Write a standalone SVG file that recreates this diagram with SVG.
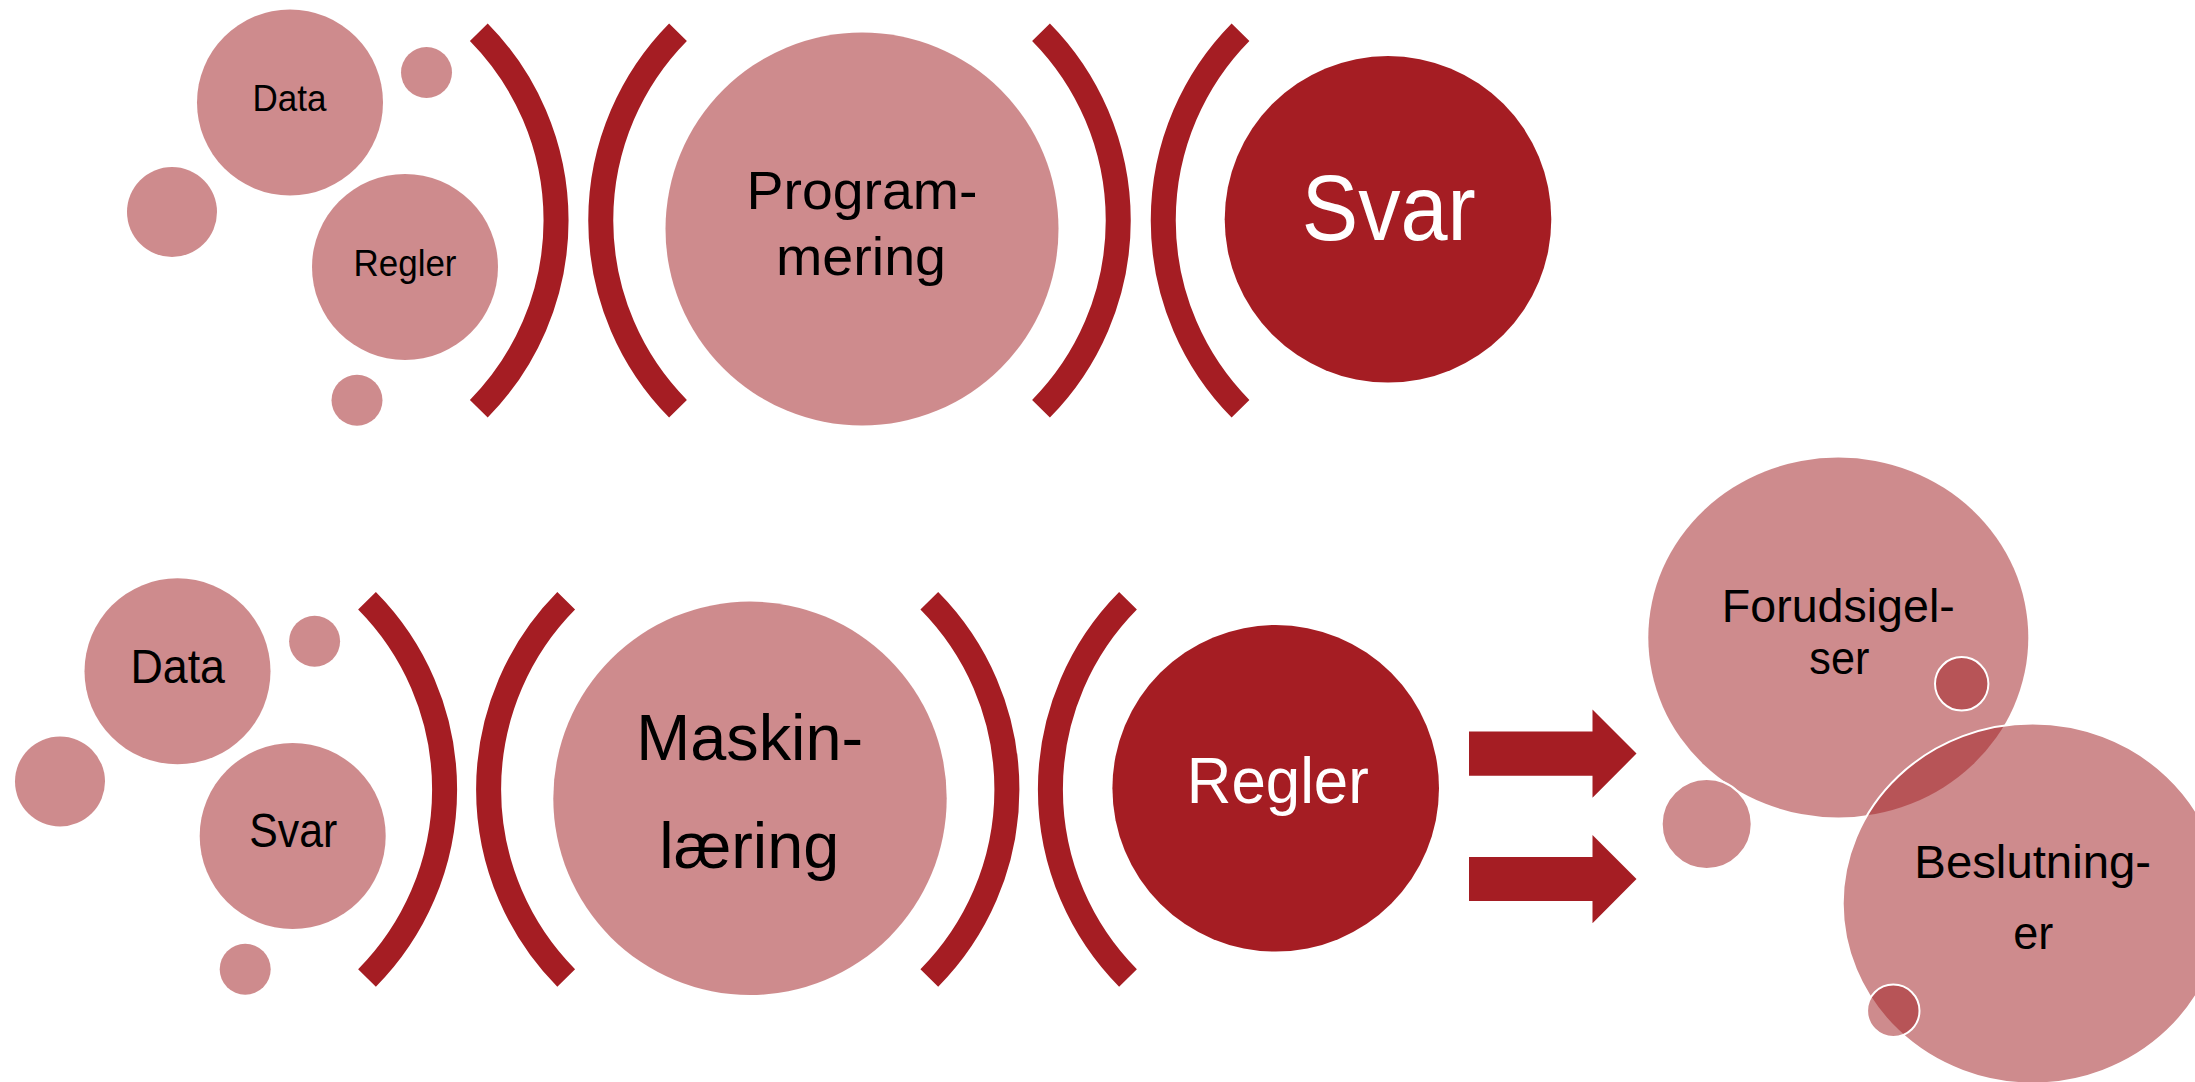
<svg xmlns="http://www.w3.org/2000/svg" width="2195" height="1082" viewBox="0 0 2195 1082">
<style>
.pk{fill:rgb(163,36,40);fill-opacity:0.53}
.pkw{fill:rgb(163,36,40);fill-opacity:0.53;stroke:#ffffff;stroke-width:2}
.dk{fill:#a51d23}
.br{fill:none;stroke:#a51d23;stroke-width:25;stroke-linecap:butt}
.t{font-family:"Liberation Sans",Arial,sans-serif;text-anchor:middle;fill:#000000}
.tw{font-family:"Liberation Sans",Arial,sans-serif;text-anchor:middle;fill:#ffffff}
</style>
<rect x="0" y="0" width="2195" height="1082" fill="#ffffff"/>

<g id="brackets">
<path class="br" d="M478.8 32.2 A268 268 0 0 1 478.8 408.7"/>
<path class="br" d="M678 32.2 A268 268 0 0 0 678 408.7"/>
<path class="br" d="M1041 32.2 A268 268 0 0 1 1041 408.7"/>
<path class="br" d="M1240.5 32.2 A268 268 0 0 0 1240.5 408.7"/>
<path class="br" d="M367 600.8 A268 268 0 0 1 367 978"/>
<path class="br" d="M566.2 600.8 A268 268 0 0 0 566.2 978"/>
<path class="br" d="M929.3 600.8 A268 268 0 0 1 929.3 978"/>
<path class="br" d="M1128 600.8 A268 268 0 0 0 1128 978"/>
</g>

<g id="top-inputs">
<g id="data-top"><circle class="pk" cx="290" cy="102.5" r="93"/><text class="t" x="289.5" y="111" font-size="36.3" textLength="74" lengthAdjust="spacingAndGlyphs">Data</text></g>
<circle id="dot-top-1" class="pk" cx="426.5" cy="72.5" r="25.5"/>
<circle id="dot-top-2" class="pk" cx="172" cy="212" r="45"/>
<g id="regler-top"><circle class="pk" cx="405" cy="267" r="93"/><text class="t" x="405" y="276" font-size="36.3" textLength="103" lengthAdjust="spacingAndGlyphs">Regler</text></g>
<circle id="dot-top-3" class="pk" cx="357" cy="400.3" r="25.5"/>
</g>

<g id="programmering"><circle class="pk" cx="862" cy="229" r="196.5"/>
<text class="t" x="862" y="209.3" font-size="54.5" textLength="231" lengthAdjust="spacingAndGlyphs">Program-</text>
<text class="t" x="861" y="275.3" font-size="54.5" textLength="170" lengthAdjust="spacingAndGlyphs">mering</text></g>

<g id="svar-top"><circle class="dk" cx="1388" cy="219.3" r="163.3"/>
<text class="tw" x="1388.7" y="240" font-size="92" textLength="174" lengthAdjust="spacingAndGlyphs">Svar</text></g>

<g id="bottom-inputs">
<g id="data-bottom"><circle class="pk" cx="177.5" cy="671.3" r="93"/><text class="t" x="177.7" y="682.7" font-size="48" textLength="94.6" lengthAdjust="spacingAndGlyphs">Data</text></g>
<circle id="dot-bot-1" class="pk" cx="314.6" cy="641.3" r="25.5"/>
<circle id="dot-bot-2" class="pk" cx="60" cy="781.5" r="45"/>
<g id="svar-bottom"><circle class="pk" cx="292.7" cy="836" r="93"/><text class="t" x="293.2" y="847" font-size="48" textLength="88" lengthAdjust="spacingAndGlyphs">Svar</text></g>
<circle id="dot-bot-3" class="pk" cx="245.2" cy="969.2" r="25.5"/>
</g>

<g id="maskinlaering"><circle class="pk" cx="750" cy="798.3" r="196.7"/>
<text class="t" x="749.7" y="760" font-size="65.6" textLength="227" lengthAdjust="spacingAndGlyphs">Maskin-</text>
<text class="t" x="749.3" y="868" font-size="65.6" textLength="180" lengthAdjust="spacingAndGlyphs">læring</text></g>

<g id="regler-bottom"><circle class="dk" cx="1275.7" cy="788.3" r="163.3"/>
<text class="tw" x="1277.8" y="803.3" font-size="65.2" textLength="182" lengthAdjust="spacingAndGlyphs">Regler</text></g>

<g id="connectors">
<polygon class="dk" points="1469,731.6 1592.5,731.6 1592.5,709.5 1636.5,753.6 1592.5,797.7 1592.5,775.7 1469,775.7"/>
<polygon class="dk" points="1469,857.1 1592.5,857.1 1592.5,835 1636.5,879.1 1592.5,923.2 1592.5,901.1 1469,901.1"/>
</g>

<g id="outputs">
<g id="forudsigelser"><ellipse class="pk" cx="1838.3" cy="637.5" rx="190" ry="180"/>
<text class="t" x="1838.3" y="621.5" font-size="46.3" textLength="233" lengthAdjust="spacingAndGlyphs">Forudsigel-</text>
<text class="t" x="1839.3" y="674" font-size="46.3" textLength="60" lengthAdjust="spacingAndGlyphs">ser</text></g>
<circle id="dot-out-1" class="pkw" cx="1706.7" cy="824" r="45"/>
<g id="beslutninger"><ellipse class="pkw" cx="2032.7" cy="903.5" rx="190" ry="180"/>
<text class="t" x="2032.7" y="877.7" font-size="47" textLength="236.7" lengthAdjust="spacingAndGlyphs">Beslutning-</text>
<text class="t" x="2033.3" y="949.3" font-size="47" textLength="40" lengthAdjust="spacingAndGlyphs">er</text></g>
<circle id="dot-out-2" class="pkw" cx="1961.7" cy="683.8" r="26.7"/>
<circle id="dot-out-3" class="pkw" cx="1893.3" cy="1010.7" r="26.2"/>
</g>
</svg>
